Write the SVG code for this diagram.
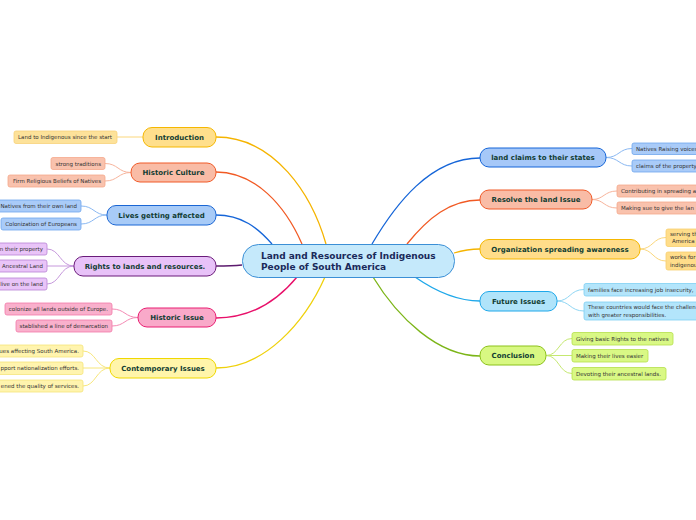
<svg xmlns="http://www.w3.org/2000/svg" width="696" height="520" viewBox="0 0 696 520">
<style>
.e{fill:none;stroke-width:1.3}
.l{fill:none;stroke-width:1}
.n{stroke-width:1}
.lf{stroke-width:0.8}
.nt{font-family:"DejaVu Sans",Verdana,sans-serif;font-weight:bold;font-size:7px;fill:#123d33;text-anchor:middle}
.lt{font-family:"DejaVu Sans",Verdana,sans-serif;font-size:5.5px;fill:#333}
.s{text-anchor:start}
.en{text-anchor:end}
.ct{font-family:"DejaVu Sans",Verdana,sans-serif;font-weight:bold;font-size:9px;fill:#1a2a5a}
</style>
<rect width="696" height="520" fill="#fff"/>
<g id="connectors">
<path class="e" stroke="#f5b400" d="M326,244 C312,195 275,137 216,137"/>
<path class="e" stroke="#f15a24" d="M302,244 C285,205 255,172 216,172"/>
<path class="e" stroke="#1565d8" d="M272,244 C258,228 242,215 216,215"/>
<path class="e" stroke="#5c1a6e" d="M242,265 C232,266 226,266 216,266"/>
<path class="e" stroke="#e8106a" d="M297,277 C278,300 252,318 216,318"/>
<path class="e" stroke="#efd10c" d="M325,277 C305,322 265,368 216,368"/>
<path class="e" stroke="#1565d8" d="M372,244 C395,205 430,158 480,158"/>
<path class="e" stroke="#f15a24" d="M407,244 C428,218 450,200 480,200"/>
<path class="e" stroke="#f5b400" d="M454,253 C464,250 470,249 480,249"/>
<path class="e" stroke="#1ea8ea" d="M415,277 C438,293 458,301 480,301"/>
<path class="e" stroke="#7cb518" d="M373,277 C398,318 438,356 480,356"/>
<path class="l" stroke="#fbd77c" d="M143,137 L117,137"/>
<path class="l" stroke="#f7b49c" d="M131,172.5 C118,172.5 118,163.5 105,163.5 M131,172.5 C118,172.5 118,181 105,181"/>
<path class="l" stroke="#8ab8f2" d="M107,215 C94,215 94,206 81,206 M107,215 C94,215 94,224 81,224"/>
<path class="l" stroke="#c698dc" d="M74,266 C60,266 60,249 47,249 M74,266 L47,266 M74,266 C60,266 60,284 47,284"/>
<path class="l" stroke="#f48ab4" d="M138,317.5 C125,317.5 125,309 112,309 M138,317.5 C125,317.5 125,326 112,326"/>
<path class="l" stroke="#f7e67a" d="M110,368 C96,368 96,351 83,351 M110,368 L83,368 M110,368 C96,368 96,386 83,386"/>
<path class="l" stroke="#8ab8f2" d="M606,157.5 C619,157.5 619,148.5 632,148.5 M606,157.5 C619,157.5 619,166 632,166"/>
<path class="l" stroke="#f7b49c" d="M592,199.5 C604,199.5 604,191 617,191 M592,199.5 C604,199.5 604,208 617,208"/>
<path class="l" stroke="#fbd77c" d="M640,249 C653,249 653,237.5 666,237.5 M640,249 C653,249 653,261 666,261"/>
<path class="l" stroke="#8fd6f4" d="M557,301 C570,301 570,289.5 584,289.5 M557,301 C570,301 570,311 584,311"/>
<path class="l" stroke="#c5e870" d="M546,355.5 C559,355.5 559,338.5 572,338.5 M546,355.5 L572,355.5 M546,355.5 C559,355.5 559,373.5 572,373.5"/>
</g>
<g id="center">
<rect x="242.5" y="244.5" width="212" height="33" rx="16" fill="#c5e9fb" stroke="#3b8fd6" class="n"/>
<text class="ct" x="261" y="259">Land and Resources of Indigenous</text>
<text class="ct" x="261" y="270">People of South America</text>
</g>
<g id="introduction">
<rect x="143" y="127.5" width="73" height="19.5" rx="9" fill="#ffdf8c" stroke="#f5b700" class="n"/>
<text class="nt" x="179.5" y="139.7">Introduction</text>
<rect x="14" y="131" width="103" height="12.5" rx="2" fill="#fde29a" stroke="#f8d27a" class="lf"/>
<text class="lt" x="18" y="139.2">Land to Indigenous since the start</text>
</g>
<g id="historic-culture">
<rect x="131" y="163" width="85" height="19" rx="9" fill="#f9bca6" stroke="#f05a28" class="n"/>
<text class="nt" x="173.5" y="175">Historic Culture</text>
<rect x="51" y="157.5" width="54" height="12" rx="2" fill="#f9c2ad" stroke="#f5a88c" class="lf"/>
<text class="lt en" x="101" y="165.5">strong traditions</text>
<rect x="8" y="175" width="97" height="12" rx="2" fill="#f9c2ad" stroke="#f5a88c" class="lf"/>
<text class="lt en" x="101" y="183">Firm Religious Beliefs of Natives</text>
</g>
<g id="lives-getting-affected">
<rect x="107" y="205.5" width="109" height="19.5" rx="9" fill="#a8cbf7" stroke="#1a66d4" class="n"/>
<text class="nt" x="161.5" y="217.7">Lives getting affected</text>
<rect x="-2" y="200" width="83" height="12" rx="2" fill="#a9cbf8" stroke="#6fa6ee" class="lf"/>
<text class="lt en" x="77" y="208">Natives from their own land</text>
<rect x="1" y="218" width="80" height="12" rx="2" fill="#a9cbf8" stroke="#6fa6ee" class="lf"/>
<text class="lt en" x="77" y="226">Colonization of Europeans</text>
</g>
<g id="rights">
<rect x="74" y="256.5" width="142" height="19.5" rx="9" fill="#e8c2f8" stroke="#6a1b7a" class="n"/>
<text class="nt" x="145" y="268.7">Rights to lands and resources.</text>
<rect x="-5" y="243" width="52" height="12" rx="2" fill="#e9c4f8" stroke="#b884d4" class="lf"/>
<text class="lt en" x="43" y="251">n their property</text>
<rect x="-5" y="260" width="52" height="12" rx="2" fill="#e9c4f8" stroke="#b884d4" class="lf"/>
<text class="lt en" x="43" y="268">Ancestral Land</text>
<rect x="-5" y="278" width="52" height="12" rx="2" fill="#e9c4f8" stroke="#b884d4" class="lf"/>
<text class="lt en" x="43" y="286">live on the land</text>
</g>
<g id="historic-issue">
<rect x="138" y="308" width="78" height="19" rx="9" fill="#f9a9c9" stroke="#e91e72" class="n"/>
<text class="nt" x="177" y="320">Historic Issue</text>
<rect x="5" y="303" width="107" height="12" rx="2" fill="#f9b0cc" stroke="#f27aa8" class="lf"/>
<text class="lt en" x="108" y="311">colonize all lands outside of Europe.</text>
<rect x="16" y="320" width="96" height="12" rx="2" fill="#f9b0cc" stroke="#f27aa8" class="lf"/>
<text class="lt en" x="108" y="328">stablished a line of demarcation</text>
</g>
<g id="contemporary-issues">
<rect x="110" y="358.5" width="106" height="19.5" rx="9" fill="#fff5aa" stroke="#f0d800" class="n"/>
<text class="nt" x="163" y="370.7">Contemporary Issues</text>
<rect x="-10" y="345" width="93" height="12" rx="2" fill="#fff4ae" stroke="#f5e47a" class="lf"/>
<text class="lt en" x="79" y="353">ues affecting South America.</text>
<rect x="-10" y="362" width="93" height="12.5" rx="2" fill="#fff4ae" stroke="#f5e47a" class="lf"/>
<text class="lt en" x="79" y="370.2">pport nationalization efforts.</text>
<rect x="-10" y="380" width="93" height="12" rx="2" fill="#fff4ae" stroke="#f5e47a" class="lf"/>
<text class="lt en" x="79" y="388">ened the quality of services.</text>
</g>
<g id="land-claims">
<rect x="480" y="148" width="126" height="19" rx="9" fill="#a6c8f8" stroke="#1565d8" class="n"/>
<text class="nt" x="543" y="160">land claims to their states</text>
<rect x="632" y="143" width="80" height="11.5" rx="2" fill="#a9cbf8" stroke="#6fa6ee" class="lf"/>
<text class="lt s" x="636" y="150.8">Natives Raising voices</text>
<rect x="632" y="160" width="80" height="12" rx="2" fill="#a9cbf8" stroke="#6fa6ee" class="lf"/>
<text class="lt s" x="636" y="168">claims of the property</text>
</g>
<g id="resolve">
<rect x="480" y="190" width="112" height="19" rx="9" fill="#f9bca6" stroke="#f05a28" class="n"/>
<text class="nt" x="536" y="202">Resolve the land Issue</text>
<rect x="617" y="185" width="90" height="12" rx="2" fill="#f9c2ad" stroke="#f5a88c" class="lf"/>
<text class="lt s" x="621" y="193">Contributing in spreading a</text>
<rect x="617" y="202" width="90" height="12" rx="2" fill="#f9c2ad" stroke="#f5a88c" class="lf"/>
<text class="lt s" x="621" y="210">Making sue to give the lan</text>
</g>
<g id="organization">
<rect x="480" y="239.5" width="160" height="19.5" rx="9" fill="#ffdd8a" stroke="#f5b700" class="n"/>
<text class="nt" x="560" y="251.7">Organization spreading awareness</text>
<rect x="666" y="229" width="40" height="17.5" rx="2" fill="#ffdd8a" stroke="#f8cf6e" class="lf"/>
<text class="lt s" x="670" y="236">serving th</text>
<text class="lt s" x="672" y="243">America</text>
<rect x="666" y="252" width="40" height="18" rx="2" fill="#ffdd8a" stroke="#f8cf6e" class="lf"/>
<text class="lt s" x="670" y="259">works for</text>
<text class="lt s" x="670" y="266.5">indigenou</text>
</g>
<g id="future-issues">
<rect x="480" y="291.5" width="77" height="19.5" rx="9" fill="#b0e4fa" stroke="#1ea8ea" class="n"/>
<text class="nt" x="518.5" y="303.7">Future Issues</text>
<rect x="584" y="283.5" width="120" height="12.5" rx="2" fill="#b3e5fb" stroke="#7fcff2" class="lf"/>
<text class="lt s" x="588" y="291.5">families face increasing job insecurity,</text>
<rect x="584" y="302" width="120" height="18" rx="2" fill="#b3e5fb" stroke="#7fcff2" class="lf"/>
<text class="lt s" x="588" y="309.3">These countries would face the challen</text>
<text class="lt s" x="588" y="316.5">with greater responsibilities.</text>
</g>
<g id="conclusion">
<rect x="480" y="346" width="66" height="19" rx="9" fill="#d8f882" stroke="#8cc21a" class="n"/>
<text class="nt" x="513" y="358">Conclusion</text>
<rect x="572" y="332.5" width="101" height="12.5" rx="2" fill="#d9f885" stroke="#b5e04a" class="lf"/>
<text class="lt s" x="576" y="340.7">Giving basic Rights to the natives</text>
<rect x="572" y="349.5" width="76" height="12.5" rx="2" fill="#d9f885" stroke="#b5e04a" class="lf"/>
<text class="lt s" x="576" y="357.7">Making their lives easier</text>
<rect x="572" y="367.5" width="94" height="12.5" rx="2" fill="#d9f885" stroke="#b5e04a" class="lf"/>
<text class="lt s" x="576" y="375.7">Devoting their ancestral lands.</text>
</g>
</svg>
